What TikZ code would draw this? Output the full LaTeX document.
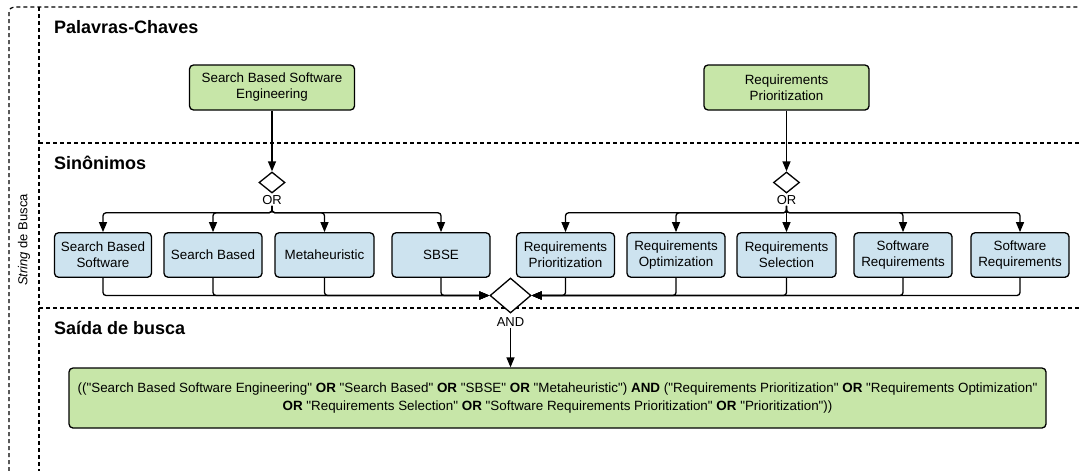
\documentclass[tikz,border=0pt]{standalone}
\usepackage{fontspec}
\setmainfont{Liberation Sans}[Ligatures=TeXOff]
\usetikzlibrary{shapes.geometric,arrows.meta}
\definecolor{kwgreen}{RGB}{199,230,168}
\definecolor{synblue}{RGB}{205,227,239}
\begin{document}
\begin{tikzpicture}[x=1pt,y=-1pt,
 frame/.style={draw=black,line width=1.2pt,dash pattern=on 4pt off 3pt},
 kw/.style={draw=black,line width=1.3pt,rounded corners=4pt,fill=kwgreen,minimum width=165pt,minimum height=45pt,align=center,font=\fontsize{13.4}{16}\selectfont,inner sep=0pt},
 syn/.style={draw=black,line width=1.3pt,rounded corners=4pt,fill=synblue,minimum height=44.5pt,align=center,font=\fontsize{13.4}{16}\selectfont,inner sep=0pt},
 gate/.style={diamond,draw=black,line width=1.3pt,fill=white,inner sep=0pt},
 conn/.style={draw=black,line width=1.3pt,rounded corners=3pt,-{Triangle[length=10pt,width=8pt]}},
 title/.style={font=\bfseries\fontsize{18}{20}\selectfont,anchor=base west,inner sep=0pt},
 lbl/.style={font=\fontsize{13}{15}\selectfont,inner sep=1pt}
]
\useasboundingbox (0,0) rectangle (1079,471);
% frame
\draw[frame,rounded corners=5pt] (9,471) -- (9,7) -- (1079,7);
\draw[frame] (39,7) -- (39,471);
\draw[frame] (39,143) -- (1079,143);
\draw[frame] (39,308) -- (1079,308);
\node[rotate=90,font=\fontsize{13}{15}\selectfont] (side) at (24,240) {\textit{String} de Busca};
% titles
\node[title] (t1) at (54,33) {Palavras-Chaves};
\node[title] (t2) at (54,169) {Sinônimos};
\node[title] (t3) at (54,334) {Saída de busca};
% keywords
\node[kw] (kw1) at (272,87.5) {Search Based Software\\Engineering};
\node[kw] (kw2) at (786.5,87.5) {Requirements\\Prioritization};
% gates
\node[gate,minimum width=26pt,minimum height=21pt] (orL) at (272,182.5) {};
\node[gate,minimum width=26pt,minimum height=21pt] (orR) at (786.5,182.5) {};
\node[lbl] (orLl) at (272,200) {OR};
\node[lbl] (orRl) at (786.5,200) {OR};
% synonyms
\node[syn,minimum width=97pt] (b1) at (103,255) {Search Based\\Software};
\node[syn,minimum width=98pt] (b2) at (213,255) {Search Based};
\node[syn,minimum width=99pt] (b3) at (324.5,255) {Metaheuristic};
\node[syn,minimum width=98pt] (b4) at (441,255) {SBSE};
\node[syn,minimum width=98pt] (r1) at (565.5,255) {Requirements\\Prioritization};
\node[syn,minimum width=98pt] (r2) at (676,255) {Requirements\\Optimization};
\node[syn,minimum width=99pt] (r3) at (786.5,255) {Requirements\\Selection};
\node[syn,minimum width=98pt] (r4) at (903,255) {Software\\Requirements};
\node[syn,minimum width=98pt] (r5) at (1020,255) {Software\\Requirements};
\node[gate,minimum width=41pt,minimum height=35pt] (and) at (510.5,295.5) {};
\node[lbl] (andl) at (510.5,322) {AND};
% output
\node[draw=black,line width=1.3pt,rounded corners=4pt,fill=kwgreen,minimum width=977pt,minimum height=60pt,align=center,font=\fontsize{13.4}{18}\selectfont,inner sep=0pt] (out) at (557.5,398)
 {((\char34Search Based Software Engineering\char34{} \textbf{OR} \char34Search Based\char34{} \textbf{OR} \char34SBSE\char34{} \textbf{OR} \char34Metaheuristic\char34) \textbf{AND} (\char34Requirements Prioritization\char34{} \textbf{OR} \char34Requirements Optimization\char34\\
 \textbf{OR} \char34Requirements Selection\char34{} \textbf{OR} \char34Software Requirements Prioritization\char34{} \textbf{OR} \char34Prioritization\char34))};
% connectors
\draw[conn] (kw1.south) -- (orL.north);
\draw[conn] (kw2.south) -- (orR.north);
\foreach \b in {b1,b2,b3,b4}{\draw[conn] (orLl.south) -- ++(0,7) -| (\b.north);}
\foreach \b in {r1,r2,r3,r4,r5}{\draw[conn] (orRl.south) -- ++(0,7) -| (\b.north);}
\foreach \b in {b1,b2,b3,b4}{\draw[conn] (\b.south) |- (and.west);}
\foreach \b in {r1,r2,r3,r4,r5}{\draw[conn] (\b.south) |- (and.east);}
\draw[conn] (andl.south) -- (andl.south |- out.north);
\end{tikzpicture}
\end{document}
